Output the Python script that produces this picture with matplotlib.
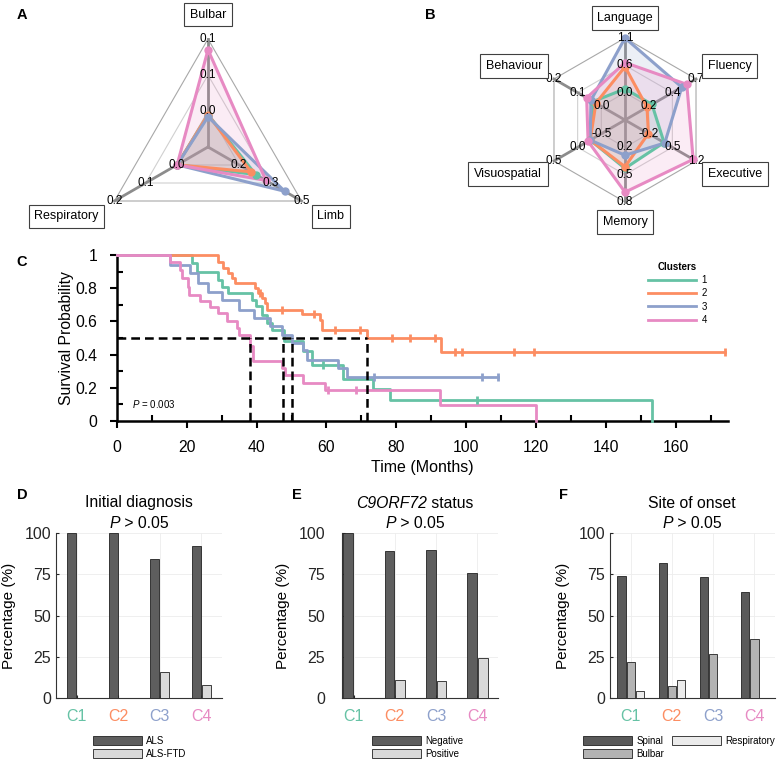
import numpy as np
import matplotlib
matplotlib.use('Agg')
import matplotlib.pyplot as plt
from matplotlib.ticker import MultipleLocator, FormatStrFormatter

plt.rcParams['font.family'] = ['Liberation Sans', 'DejaVu Sans']
plt.rcParams['mathtext.fontset'] = 'custom'
plt.rcParams['mathtext.rm'] = 'Liberation Sans'
plt.rcParams['mathtext.it'] = 'Liberation Sans:italic'

W, H = 780, 763

colors = ['#66c2a5', '#fc8d62', '#8da0cb', '#e78ac3']
clusters = ['1', '2', '3', '4']
groups = ['C1', 'C2', 'C3', 'C4']

# A: site of onset radar (position along each spoke, 0 = centre, 1 = outer ring)
onset_names = ['Bulbar', 'Limb', 'Respiratory']
onset_ticks = [['0.0', '0.1', '0.1'], ['0.2', '0.3', '0.5'], ['0.0', '0.1', '0.2']]
onset_c1 = [0.30, 0.51, 0.33]
onset_c2 = [0.30, 0.46, 0.33]
onset_c3 = [0.28, 0.82, 0.33]
onset_c4 = [0.90, 0.62, 0.33]

# B: cognitive domains radar
cog_names = ['Language', 'Fluency', 'Executive', 'Memory', 'Visuospatial', 'Behaviour']
cog_ticks = [['0.0', '0.6', '1.1'], ['0.2', '0.4', '0.7'], ['-0.2', '0.5', '1.2'],
             ['0.2', '0.5', '0.8'], ['-0.5', '0.0', '0.5'], ['0.0', '0.1', '0.2']]
cog_c1 = [0.38, 0.38, 0.55, 0.59, 0.49, 0.45]
cog_c2 = [0.65, 0.31, 0.33, 0.57, 0.49, 0.41]
cog_c3 = [1.00, 0.80, 0.56, 0.43, 0.49, 0.48]
cog_c4 = [0.70, 0.87, 0.96, 0.88, 0.52, 0.54]

# C: Kaplan-Meier curves (event times, survival after event, censored times)
km1_t = [21.4, 22.8, 29.0, 30.0, 31.9, 38.8, 39.8, 41.5, 43.0, 44.5, 47.7, 53.4, 55.8, 64.6, 73.4, 78.2, 153.2]
km1_s = [0.95, 0.90, 0.85, 0.81, 0.77, 0.73, 0.69, 0.64, 0.59, 0.55, 0.48, 0.42, 0.34, 0.255, 0.19, 0.128, 0.0]
km1_c = [59.1, 103.0]
km2_t = [29.0, 30.5, 31.9, 32.8, 33.8, 39.5, 40.5, 41.5, 42.4, 43.0, 52.9, 58.2, 58.6, 71.5, 92.7]
km2_s = [0.96, 0.92, 0.89, 0.86, 0.83, 0.80, 0.77, 0.74, 0.71, 0.67, 0.645, 0.61, 0.55, 0.50, 0.414]
km2_c = [41.0, 47.2, 56.3, 62.4, 69.6, 78.7, 84.0, 91.0, 96.8, 98.8, 113.6, 119.3, 174.0]
km3_t = [15.2, 20.9, 23.3, 26.2, 30.0, 34.8, 39.3, 43.8, 47.2, 50.0, 53.4, 54.5, 63.4, 65.8]
km3_s = [0.94, 0.89, 0.83, 0.78, 0.73, 0.67, 0.62, 0.57, 0.52, 0.47, 0.43, 0.37, 0.32, 0.263]
km3_c = [73.5, 104.5, 109.0]
km4_t = [15.2, 18.0, 18.5, 20.2, 20.5, 23.8, 26.6, 29.0, 31.4, 34.3, 35.0, 38.0, 39.0, 47.2, 48.2, 53.4, 59.6, 92.6, 120.0]
km4_s = [0.955, 0.91, 0.86, 0.81, 0.76, 0.72, 0.685, 0.648, 0.604, 0.56, 0.52, 0.45, 0.36, 0.317, 0.277, 0.23, 0.187, 0.097, 0.0]
km4_c = [60.3, 68.5]
median_times = [38, 47.5, 50, 71.5]

# D-F: percentages
diag_als = [100, 100, 84, 92]
diag_ftd = [0, 0, 16, 8]
c9_neg = [100, 89, 89.5, 76]
c9_pos = [0, 11, 10.5, 24]
site_spinal = [74, 82, 73.5, 64]
site_bulbar = [22, 7, 26.5, 36]
site_resp = [4, 11, 0, 0]


def box(l, t, r, b):
    return [l / W, 1 - b / H, (r - l) / W, (b - t) / H]


fig = plt.figure(figsize=(W / 100, H / 100), dpi=100)


def radar(ax, names, ticks, series):
    n = len(names)
    ang = np.deg2rad(90 - 360 * np.arange(n) / n)
    cx, cy = np.cos(ang), np.sin(ang)
    for lev in [1 / 3, 2 / 3, 1]:
        ax.plot(np.append(cx, cx[0]) * lev, np.append(cy, cy[0]) * lev,
                color='#a8a8a8' if lev == 1 else '#d0d0d0', lw=0.8, zorder=1)
    for i in range(n):
        ax.plot([0, cx[i]], [0, cy[i]], color='#8c8c8c', lw=2, zorder=2)
    for vals, c in zip(series, colors):
        r = np.array(vals)
        x, y = r * cx, r * cy
        ax.fill(x, y, color=c, alpha=0.16, lw=0, zorder=3)
        ax.plot(np.append(x, x[0]), np.append(y, y[0]), color=c, lw=2.2, zorder=4)
        ax.plot(x, y, 'o', color=c, ms=5, zorder=5)
    for i in range(n):
        for lev, t in zip([1 / 3, 2 / 3, 1], ticks[i]):
            ax.text(cx[i] * lev, cy[i] * lev, t, ha='center', va='center', fontsize=8.5, zorder=6)
        ha = 'left' if cx[i] > 0.1 else ('right' if cx[i] < -0.1 else 'center')
        va = 'bottom' if cy[i] > 0 else 'top'
        ax.text(cx[i] * 1.17, cy[i] * 1.17, names[i], ha=ha, va=va, fontsize=9, zorder=7,
                bbox=dict(boxstyle='square,pad=0.45', fc='white', ec='#404040', lw=0.8))
    ax.axis('off')


# panel A
axA = fig.add_axes(box(0, 0, 390, 250))
axA.set_xlim(-208 / 108, 182 / 108)
axA.set_ylim(-103 / 108, 147 / 108)
radar(axA, onset_names, onset_ticks, [onset_c1, onset_c2, onset_c3, onset_c4])

# panel B
axB = fig.add_axes(box(390, 0, 780, 250))
axB.set_xlim(-235 / 82, 155 / 82)
axB.set_ylim(-130 / 82, 120 / 82)
radar(axB, cog_names, cog_ticks, [cog_c1, cog_c2, cog_c3, cog_c4])

# panel C
axC = fig.add_axes(box(117, 255, 728, 421))
kms = [(km1_t, km1_s, km1_c), (km2_t, km2_s, km2_c), (km3_t, km3_s, km3_c), (km4_t, km4_s, km4_c)]
for (times, surv, cens), c, lab in zip(kms, colors, clusters):
    t = np.r_[0, times]
    s = np.r_[1, surv]
    end = max(t[-1], max(cens))
    axC.step(np.r_[t, end], np.r_[s, s[-1]], where='post', color=c, lw=2, label=lab,
             clip_on=False, zorder=3)
    idx = np.searchsorted(t, cens, side='right') - 1
    axC.plot(cens, s[idx], '|', color=c, ms=6, mew=2, clip_on=False, zorder=4)

dash = (0, (3.5, 2))
axC.plot([0, max(median_times)], [0.5, 0.5], color='black', lw=1.8, linestyle=dash, zorder=5)
for m in median_times:
    axC.plot([m, m], [0, 0.5], color='black', lw=1.8, linestyle=dash, zorder=5)

axC.set_xlim(0, 175)
axC.set_ylim(0, 1)
axC.xaxis.set_major_locator(MultipleLocator(20))
axC.xaxis.set_minor_locator(MultipleLocator(10))
axC.yaxis.set_major_locator(MultipleLocator(0.2))
axC.yaxis.set_minor_locator(MultipleLocator(0.1))
axC.yaxis.set_major_formatter(FormatStrFormatter('%g'))
axC.tick_params(which='major', direction='out', length=5, width=1.5, labelsize=11.3)
axC.tick_params(which='minor', direction='in', length=4, width=1.5)
axC.tick_params(axis='x', which='major', pad=9)
axC.tick_params(axis='y', which='major', pad=9)
for side in ['top', 'right']:
    axC.spines[side].set_visible(False)
for side in ['left', 'bottom']:
    axC.spines[side].set_linewidth(1.8)
axC.set_xlabel('Time (Months)', fontsize=11.5, labelpad=3)
axC.set_ylabel('Survival Probability', fontsize=11.3, labelpad=1)
axC.text(4.3, 0.1, '$P$ = 0.003', fontsize=7, va='center')
leg = axC.legend(title='Clusters', loc='upper left', bbox_to_anchor=(0.869, 0.96), frameon=False,
                 fontsize=7, handlelength=4.9, handletextpad=0.6, labelspacing=0.35,
                 borderpad=0, borderaxespad=0)
leg.get_title().set_fontweight('bold')
leg.get_title().set_fontsize(7)

# panels D-F
x = np.arange(1, 5)


def bar_panel(pos, xlim, series, shades, names, width, offsets):
    ax = fig.add_axes(box(*pos))
    for vals, col, off, nm in zip(series, shades, offsets, names):
        ax.bar(x + off, vals, width, color=col, edgecolor='#222222', lw=0.6, label=nm, zorder=3)
    ax.set_xlim(*xlim)
    ax.set_ylim(0, 100)
    ax.set_yticks([0, 25, 50, 75, 100])
    ax.set_xticks(x)
    ax.set_xticklabels(groups)
    ax.grid(True, color='#ededed', lw=0.6)
    ax.set_axisbelow(True)
    for side in ['top', 'right']:
        ax.spines[side].set_visible(False)
    for side in ['left', 'bottom']:
        ax.spines[side].set_color('#333333')
        ax.spines[side].set_linewidth(0.8)
    ax.tick_params(direction='in', length=2, labelsize=11.5, colors='#262626')
    ax.tick_params(axis='x', pad=8)
    for lbl, c in zip(ax.get_xticklabels(), colors):
        lbl.set_color(c)
    ax.set_ylabel('Percentage (%)', fontsize=11, labelpad=6)
    return ax


axD = bar_panel((56, 533, 222, 698), (0.5, 4.5), [diag_als, diag_ftd], ['#5e5e5e', '#d9d9d9'],
                ['ALS', 'ALS-FTD'], 0.22, [-0.12, 0.12])
axE = bar_panel((342, 533, 498, 698), (0.72, 4.5), [c9_neg, c9_pos], ['#5e5e5e', '#d9d9d9'],
                ['Negative', 'Positive'], 0.24, [-0.13, 0.13])
axE.tick_params(axis='y', pad=12)
axF = bar_panel((610, 533, 775, 698), (0.5, 4.5), [site_spinal, site_bulbar, site_resp],
                ['#5a5a5a', '#b3b3b3', '#ebebeb'], ['Spinal', 'Bulbar', 'Respiratory'], 0.2,
                [-0.22, 0.0, 0.22])

leg_kw = dict(loc='upper left', frameon=False, fontsize=7, handlelength=5, handleheight=1.0,
              labelspacing=0.3, borderpad=0, borderaxespad=0, handletextpad=0.5)
fig.legend(*axD.get_legend_handles_labels(), bbox_to_anchor=(93 / W, 1 - 736 / H), **leg_kw)
fig.legend(*axE.get_legend_handles_labels(), bbox_to_anchor=(372 / W, 1 - 736 / H), **leg_kw)
fig.legend(*axF.get_legend_handles_labels(), bbox_to_anchor=(583 / W, 1 - 736 / H), ncol=2,
           columnspacing=0.8, **leg_kw)

renderer = fig.canvas.get_renderer()


def rich_line(xc, yc, parts, size=11.3):
    ts = [fig.text(0, 1 - yc / H, s, fontsize=size, style=st, va='center') for s, st in parts]
    ws = [t.get_window_extent(renderer).width for t in ts]
    pos = xc - sum(ws) / 2
    for t, w in zip(ts, ws):
        t.set_x(pos / W)
        pos += w


rich_line(139, 503, [('Initial diagnosis', 'normal')])
rich_line(139, 523, [('P', 'italic'), (' > 0.05', 'normal')])
rich_line(415, 503, [('C9ORF72', 'italic'), (' status', 'normal')])
rich_line(415, 523, [('P', 'italic'), (' > 0.05', 'normal')])
rich_line(692, 503, [('Site of onset', 'normal')])
rich_line(692, 523, [('P', 'italic'), (' > 0.05', 'normal')])

for lab, (px, py) in zip('ABCDEF', [(22, 15), (430, 15), (22, 262), (22, 495), (297, 495), (563, 495)]):
    fig.text(px / W, 1 - py / H, lab, fontsize=10.5, fontweight='bold', ha='center', va='center')

fig.savefig('out.png', dpi=100)
